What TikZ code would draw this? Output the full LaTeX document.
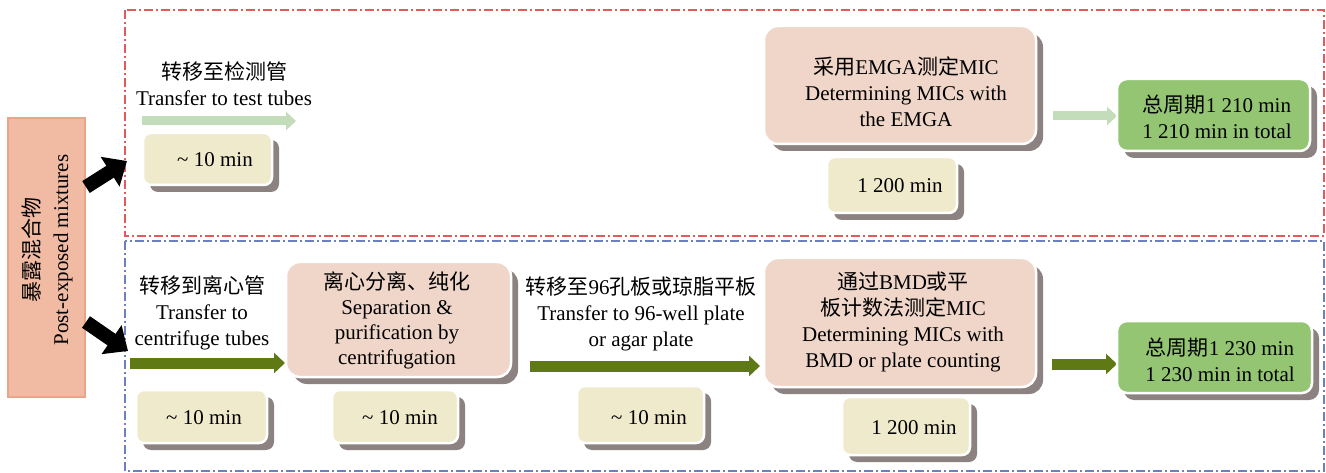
\documentclass[tikz,border=0pt]{standalone}
\usepackage{fontspec}
\setmainfont{Liberation Serif}
\newfontfamily\cjk{Noto Sans CJK SC}
\usetikzlibrary{arrows.meta,shadows}
\definecolor{pinkc}{RGB}{239,214,201}
\definecolor{timec}{RGB}{240,234,205}
\definecolor{greenc}{RGB}{147,197,114}
\definecolor{leftc}{RGB}{241,187,163}
\definecolor{leftb}{RGB}{233,165,138}
\definecolor{lgreen}{RGB}{195,221,186}
\definecolor{olivec}{RGB}{95,122,21}
\definecolor{redf}{RGB}{227,90,90}
\definecolor{bluef}{RGB}{106,128,192}
\definecolor{shadowc}{RGB}{140,130,130}
\begin{document}
\begin{tikzpicture}[x=1pt,y=-1pt,
  every node/.style={font=\fontsize{21}{26}\selectfont},
  cardbox/.style={draw=white, line width=2.5pt, inner sep=0pt,
    drop shadow={shadow xshift=7pt, shadow yshift=-7pt, fill=shadowc, opacity=1}},
  pinkbox/.style={cardbox, fill=pinkc, rounded corners=14pt},
  timebox/.style={cardbox, fill=timec, rounded corners=8pt},
  greenbox/.style={cardbox, fill=greenc, rounded corners=10pt},
  txt/.style={align=center, inner sep=0pt},
  frame/.style={line width=1.2pt, dash pattern=on 9pt off 3pt on 2pt off 3pt},
  lightarrow/.style={lgreen, line width=9pt, -{Triangle[length=10pt 0 0,width=18pt 0 0]}},
  olivearrow/.style={olivec, line width=11pt, -{Triangle[length=11pt 0 0,width=20pt 0 0]}},
  blackarrow/.style={black, line width=14pt, -{Triangle[length=20pt 0 0,width=34pt 0 0]}}]
\useasboundingbox (0,0) rectangle (1326,473);
\fill[white] (0,0) rectangle (1326,473);

% frames
\draw[frame, redf] (125,10) rectangle (1324,236);
\draw[frame, bluef] (125,241) rectangle (1324,471);

% left box
\node[fill=leftc, draw=leftb, line width=2.5pt, minimum width=77pt, minimum height=279pt, inner sep=0pt] (L) at (46.5,257.5) {};
\node[txt, rotate=90, font=\fontsize{21}{29}\selectfont] (Ltxt) at (47,250) {{\cjk 暴露混合物}\\Post-exposed mixtures};

% black arrows
\coordinate (k1s) at (86,187);
\coordinate (k1e) at (127,161);
\coordinate (k2s) at (86,322);
\coordinate (k2e) at (128,351);
\draw[blackarrow] (k1s) -- (k1e);
\draw[blackarrow] (k2s) -- (k2e);

% ---- top row ----
\node[txt] (l1) at (224,84) {{\cjk 转移至检测管}\\Transfer to test tubes};
\coordinate (a1s) at (142,121);
\coordinate (a1e) at (296,121);
\draw[lightarrow] (a1s) -- (a1e);
\node[timebox, minimum width=129pt, minimum height=52pt] (T1) at (207.5,159) {};
\node[txt] (T1t) at (215,160) {\textasciitilde\ 10 min};

\node[pinkbox, minimum width=272pt, minimum height=118pt] (P1) at (900,85) {};
\node[txt] (P1t) at (906,92) {{\cjk 采用}EMGA{\cjk 测定}MIC\\Determining MICs with\\the EMGA};
\node[timebox, minimum width=130pt, minimum height=56pt] (T2) at (892,185) {};
\node[txt] (T2t) at (900,186) {1 200 min};

\coordinate (a2s) at (1053,116);
\coordinate (a2e) at (1117,116);
\draw[lightarrow] (a2s) -- (a2e);
\node[greenbox, minimum width=193pt, minimum height=72pt] (G1) at (1213.5,115) {};
\node[txt] (G1t) at (1217,117) {{\cjk 总周期}1 210 min\\1 210 min in total};

% ---- bottom row ----
\node[txt] (l2) at (202,313) {{\cjk 转移到离心管}\\Transfer to\\centrifuge tubes};
\coordinate (b1s) at (130,363);
\coordinate (b1e) at (285,363);
\draw[olivearrow] (b1s) -- (b1e);
\node[timebox, minimum width=131pt, minimum height=53pt] (T3) at (201.5,416.5) {};
\node[txt] (T3t) at (204,418) {\textasciitilde\ 10 min};

\node[pinkbox, minimum width=225pt, minimum height=115pt] (P2) at (398.5,319.5) {};
\node[txt, font=\fontsize{21}{25}\selectfont] (P2t) at (397,320) {{\cjk 离心分离、纯化}\\Separation \&\\purification by\\centrifugation};
\node[timebox, minimum width=126pt, minimum height=53pt] (T4) at (395,416.5) {};
\node[txt] (T4t) at (400,418) {\textasciitilde\ 10 min};

\node[txt] (l3) at (641,314) {{\cjk 转移至}96{\cjk 孔板或琼脂平板}\\Transfer to 96-well plate\\or agar plate};
\coordinate (b2s) at (530,366);
\coordinate (b2e) at (760,366);
\draw[olivearrow] (b2s) -- (b2e);
\node[timebox, minimum width=127pt, minimum height=57pt] (T5) at (640.5,414.5) {};
\node[txt] (T5t) at (649,418) {\textasciitilde\ 10 min};

\node[pinkbox, minimum width=272pt, minimum height=129pt] (P3) at (900,322.5) {};
\node[txt] (P3t) at (903,322) {{\cjk 通过}BMD{\cjk 或平}\\{\cjk 板计数法测定}MIC\\Determining MICs with\\BMD or plate counting};
\node[timebox, minimum width=128pt, minimum height=58pt] (T6) at (906,426) {};
\node[txt] (T6t) at (914,428) {1 200 min};

\coordinate (b3s) at (1052,364);
\coordinate (b3e) at (1117,364);
\draw[olivearrow] (b3s) -- (b3e);
\node[greenbox, minimum width=195pt, minimum height=72pt] (G2) at (1214.5,357) {};
\node[txt] (G2t) at (1220,360) {{\cjk 总周期}1 230 min\\1 230 min in total};
\end{tikzpicture}
\end{document}
